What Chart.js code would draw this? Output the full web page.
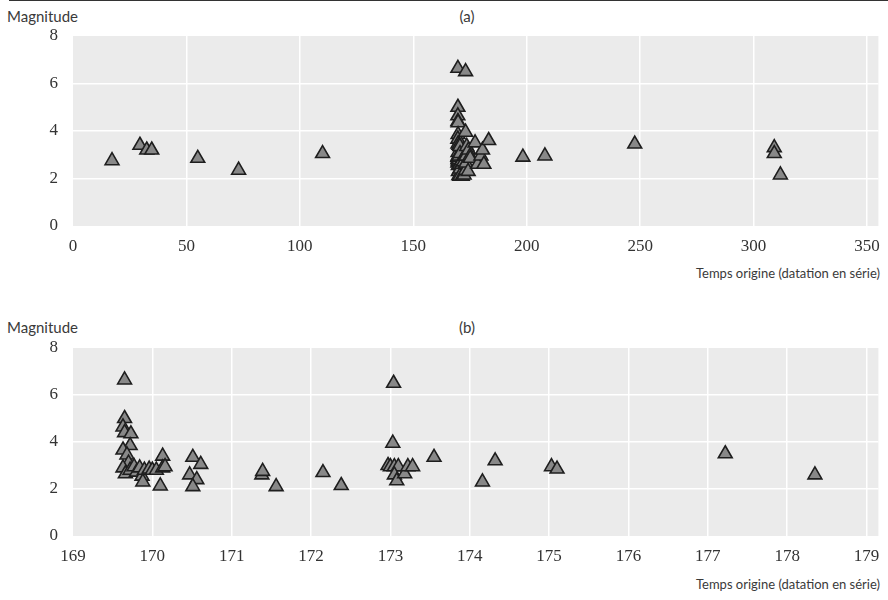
<!DOCTYPE html>
<html><head><meta charset="utf-8">
<script src="https://cdn.jsdelivr.net/npm/chart.js@4"></script>
<style>
html,body{margin:0;padding:0;background:#fff;}
body{width:888px;height:600px;position:relative;overflow:hidden;font-family:Lato,"Open Sans",sans-serif;color:#333;}
.rule{position:absolute;left:9px;right:0;top:0;height:1px;background:#333;}
.lab{position:absolute;font-size:15px;white-space:nowrap;line-height:16px;color:#3a3a3a;}
.wrap{position:absolute;left:0;width:888px;height:300px;}
</style></head>
<body>
<div class="rule"></div>
<div class="lab" style="left:7px;top:8px;">Magnitude</div>
<div class="lab" style="left:467px;top:8px;transform:translateX(-50%);">(a)</div>
<div class="lab" style="right:8px;top:265px;font-size:13px;">Temps origine (datation en série)</div>
<div class="lab" style="left:7px;top:319px;">Magnitude</div>
<div class="lab" style="left:467px;top:319px;transform:translateX(-50%);">(b)</div>
<div class="lab" style="right:8px;top:576px;font-size:13px;">Temps origine (datation en série)</div>
<div class="wrap" style="top:0"><canvas id="ca"></canvas></div>
<div class="wrap" style="top:300px"><canvas id="cb"></canvas></div>
<script>
// Origin time (serial dating) and magnitude of each event
const times = [17.2,29.5,32.5,34.7,55,73,110,
 169.65,169.65,169.63,169.65,169.73,169.72,169.63,169.68,169.70,169.63,169.66,169.72,169.77,169.80,169.84,169.87,169.90,169.88,169.96,170.00,170.05,
 170.13,170.13,170.10,170.16,170.47,170.51,170.61,170.56,170.51,
 171.38,171.39,171.56,172.15,172.38,
 172.97,173.04,173.03,173.00,173.05,173.10,173.05,173.08,173.18,173.22,173.28,173.55,
 174.16,174.32,175.03,175.10,177.22,178.35,
 179.8,180.5,181.1,183.2,
 198.3,208,247.6,309.1,309.1,311.8];
const magnitudes = [2.75,3.4,3.2,3.2,2.85,2.35,3.05,
 6.64,5.0,4.64,4.4,4.35,3.85,3.66,3.45,3.1,2.9,2.65,2.8,2.95,2.72,2.9,2.55,2.8,2.3,2.85,2.8,2.8,
 3.4,2.9,2.13,2.95,2.6,3.35,3.05,2.4,2.1,
 2.6,2.75,2.1,2.7,2.15,
 3.0,6.5,3.95,2.95,2.95,2.95,2.6,2.35,2.65,2.95,2.95,3.35,
 2.3,3.2,2.95,2.85,3.5,2.6,
 2.95,3.2,2.6,3.6,
 2.9,2.95,3.45,3.3,3.05,2.15];
const yTicks = [0,2,4,6,8];
const xTicksA = [0,50,100,150,200,250,300,350];
const xTicksB = [169,170,171,172,173,174,175,176,177,178,179];
const xRangeA = [0,355];
const xRangeB = [169,179.15];

const bgPlugin = {
  id:'panelBg',
  beforeDraw(chart){
    const a = chart.chartArea, c = chart.ctx;
    c.save(); c.fillStyle = '#EBEBEB';
    c.fillRect(a.left, a.top, a.right - a.left, a.bottom - a.top);
    c.restore();
  }
};

function makeChart(id, xr, xt, topPad, xAxisH){
  const pts = [];
  for (let i = 0; i < times.length; i++) {
    if (times[i] >= xr[0] && times[i] <= xr[1]) pts.push({x: times[i], y: magnitudes[i]});
  }
  const gridColor = (ctx) => {
    const v = ctx.tick ? ctx.tick.value : null;
    const s = ctx.scale;
    if (v === s.min || v === s.max) return 'rgba(0,0,0,0)';
    return '#FFFFFF';
  };
  return new Chart(document.getElementById(id), {
    type:'scatter',
    data:{datasets:[{
      data:pts,
      pointStyle:'triangle',
      pointRadius:8, pointHoverRadius:8,
      backgroundColor:'#888888',
      borderColor:'#1E1E1E',
      borderWidth:1.6
    }]},
    options:{
      responsive:false, animation:false,
      events:[],
      layout:{padding:{top:topPad, right:8, left:0, bottom:0}},
      plugins:{legend:{display:false}, tooltip:{enabled:false}, title:{display:false}},
      scales:{
        x:{
          type:'linear', min:xr[0], max:xr[1],
          afterBuildTicks(s){ s.ticks = xt.map(v => ({value:v})); },
          afterFit(s){ s.height = xAxisH; s.paddingLeft = 0; s.paddingRight = 0; },
          border:{display:false},
          grid:{color:gridColor, lineWidth:1.5, drawTicks:false},
          ticks:{padding:10, color:'#333', font:{family:'"Liberation Serif", serif', size:17}, maxRotation:0, autoSkip:false}
        },
        y:{
          type:'linear', min:0, max:8,
          afterBuildTicks(s){ s.ticks = yTicks.map(v => ({value:v})); },
          afterFit(s){ s.width = 73; s.paddingTop = 0; s.paddingBottom = 0; },
          border:{display:false},
          grid:{color:gridColor, lineWidth:1.5, drawTicks:false},
          ticks:{padding:15, color:'#333', font:{family:'"Liberation Serif", serif', size:17}}
        }
      }
    },
    plugins:[bgPlugin]
  });
}
document.getElementById('ca').width = 888; document.getElementById('ca').height = 300;
document.getElementById('cb').width = 888; document.getElementById('cb').height = 300;
makeChart('ca', xRangeA, xTicksA, 36, 74);
makeChart('cb', xRangeB, xTicksB, 48, 64);
</script>
</body></html>
